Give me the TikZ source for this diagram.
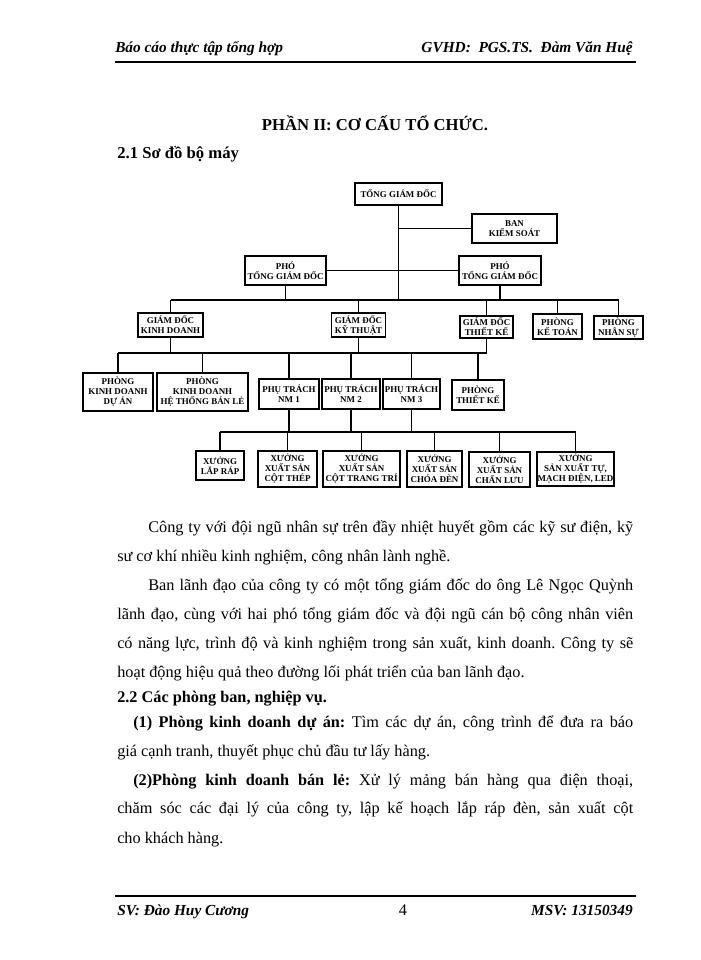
\documentclass[tikz,border=0pt]{standalone}
\usepackage{fontspec}
\setmainfont{Liberation Serif}
\frenchspacing
\newcommand\boxfont{\fontsize{6.7}{7.5}\selectfont\bfseries}
\newcommand\bodyfont{\fontsize{12.2}{14}\selectfont}
\newcommand\hdrfont{\fontsize{11.5}{14}\selectfont\bfseries\itshape}
\begin{document}
\begin{tikzpicture}[x=0.75pt,y=-0.75pt,
  box/.style={draw, line width=1.3pt, inner sep=0pt, align=center, font=\boxfont},
  sz/.style 2 args={minimum width=#1*0.75pt, minimum height=#2*0.75pt},
  ln/.style={line width=1.1pt},
  txt/.style={inner sep=0pt, font=\bodyfont, anchor=base west},
  every node/.append style={text=black}]
\fill[white] (0,0) rectangle (700,960);
\useasboundingbox (0,0) rectangle (700,960);

% header / footer
\node[inner sep=0pt, anchor=base west, font=\hdrfont] (h1) at (115,52) {Báo cáo thực tập tổng hợp};
\node[inner sep=0pt, anchor=base east, font=\hdrfont] (h2) at (633,52) {GVHD:\ \ PGS.TS.\ \ Đàm Văn Huệ};
\draw[line width=1.5pt] (115,62) -- (636,62);
\draw[line width=1pt] (115,896) -- (636,896);
\node[inner sep=0pt, anchor=base west, font=\hdrfont] (f1) at (117,915) {SV: Đào Huy Cương};
\node[inner sep=0pt, anchor=base, font=\bodyfont] (f2) at (403,915) {4};
\node[inner sep=0pt, anchor=base east, font=\hdrfont] (f3) at (633,915) {MSV: 13150349};

% titles
\node[inner sep=0pt, anchor=base, font=\fontsize{12.5}{15}\selectfont\bfseries] (t1) at (375,130) {PHẦN II: CƠ CẤU TỔ CHỨC.};
\node[txt, font=\fontsize{12.5}{15}\selectfont\bfseries] (t2) at (117,158) {2.1 Sơ đồ bộ máy};

% org chart
\node[box, sz={87}{22}] (tgd) at (398.5,194) {TỔNG GIÁM ĐỐC};
\node[box, sz={85}{29}] (bks) at (514.5,228.5) {BAN\\KIỂM SOÁT};
\node[box, sz={81}{29}] (pl) at (285.5,270.5) {PHÓ\\TỔNG GIÁM ĐỐC};
\node[box, sz={82}{29}] (pr) at (500,270.5) {PHÓ\\TỔNG GIÁM ĐỐC};

\node[box, sz={65}{24}] (gdkd) at (170.5,325) {GIÁM ĐỐC\\KINH DOANH};
\node[box, sz={54}{24}] (gdkt) at (358.5,325) {GIÁM ĐỐC\\KỸ THUẬT};
\node[box, sz={53}{22}] (gdtk) at (486.5,327) {GIÁM ĐỐC\\THIẾT KẾ};
\node[box, sz={49}{25}] (kt) at (557.5,326.5) {PHÒNG\\KẾ TOÁN};
\node[box, sz={49}{23}] (ns) at (618.5,327.5) {PHÒNG\\NHÂN SỰ};

\node[box, sz={70}{38}] (kdda) at (118,392) {PHÒNG\\KINH DOANH\\DỰ ÁN};
\node[box, sz={91}{38}] (kdbl) at (202.5,392) {PHÒNG\\KINH DOANH\\HỆ THỐNG BÁN LẺ};
\node[box, sz={60}{30}] (nm1) at (289,394) {PHỤ TRÁCH\\NM 1};
\node[box, sz={58}{30}] (nm2) at (351,394) {PHỤ TRÁCH\\NM 2};
\node[box, sz={57}{30}] (nm3) at (411.5,394) {PHỤ TRÁCH\\NM 3};
\node[box, sz={52}{30}] (ptk) at (478,395) {PHÒNG\\THIẾT KẾ};

\node[box, sz={48}{29}] (x1) at (220,465.5) {XƯỞNG\\LẮP RÁP};
\node[box, sz={59}{36}] (x2) at (287.5,469) {XƯỞNG\\XUẤT SẢN\\CỘT THÉP};
\node[box, sz={77}{36}] (x3) at (361.5,469) {XƯỞNG\\XUẤT SẢN\\CỘT TRANG TRÍ};
\node[box, sz={55}{36}] (x4) at (434.5,469) {XƯỞNG\\XUẤT SẢN\\CHÓA ĐÈN};
\node[box, sz={61}{35}] (x5) at (499.5,469.5) {XƯỞNG\\XUẤT SẢN\\CHẤN LƯU};
\node[box, sz={77}{34}] (x6) at (575.5,469) {XƯỞNG\\SẢN XUẤT TỰ,\\MẠCH ĐIỆN, LED};

\coordinate (b2) at (0,300);
\coordinate (b3) at (0,353);
\coordinate (b4) at (0,432);

\draw[ln] (tgd.south) -- (tgd.south |- b2);
\draw[ln] (tgd.south |- bks.west) -- (bks.west);
\draw[ln] (pl.east) -- (pr.west);
\draw[ln] (pl.south) -- (pl.south |- b2);
\draw[ln] (pr.south) -- (pr.south |- b2);
\draw[ln] (gdkd.north |- b2) -- (ns.north |- b2);
\foreach \n in {gdkd,gdkt,gdtk,kt,ns} \draw[ln] (\n.north) -- (\n.north |- b2);

\draw[ln] (kdda.north |- b3) -- (gdtk.south |- b3);
\foreach \n in {gdkd,gdkt,gdtk} \draw[ln] (\n.south) -- (\n.south |- b3);
\foreach \n in {kdda,kdbl,nm1,nm2,nm3,ptk} \draw[ln] (\n.north) -- (\n.north |- b3);

\draw[ln] (x1.north |- b4) -- (x6.north |- b4);
\foreach \n in {nm1,nm2,nm3} \draw[ln] (\n.south) -- (\n.south |- b4);
\foreach \n in {x1,x2,x3,x4,x5,x6} \draw[ln] (\n.north) -- (\n.north |- b4);

% body text
\node[txt] (l1) at (148,532) {\makebox[363.75pt][s]{Công ty với đội ngũ nhân sự trên đầy nhiệt huyết gồm các kỹ sư điện, kỹ}};
\node[txt] (l2) at (117,561) {sư cơ khí nhiều kinh nghiệm, công nhân lành nghề.};
\node[txt] (l3) at (148,590) {\makebox[363.75pt][s]{Ban lãnh đạo của công ty có một tổng giám đốc do ông Lê Ngọc Quỳnh}};
\node[txt] (l4) at (117,619) {\makebox[387pt][s]{lãnh đạo, cùng với hai phó tổng giám đốc và đội ngũ cán bộ công nhân viên}};
\node[txt] (l5) at (117,648) {\makebox[387pt][s]{có năng lực, trình độ và kinh nghiệm trong sản xuất, kinh doanh. Công ty sẽ}};
\node[txt] (l6) at (117,677) {hoạt động hiệu quả theo đường lối phát triển của ban lãnh đạo.};
\node[txt, font=\bodyfont\bfseries] (l7) at (117,702) {2.2 Các phòng ban, nghiệp vụ.};
\node[txt] (l8) at (133,727) {\makebox[375pt][s]{\textbf{(1) Phòng kinh doanh dự án:} Tìm các dự án, công trình để đưa ra báo}};
\node[txt] (l9) at (117,756) {giá cạnh tranh, thuyết phục chủ đầu tư lấy hàng.};
\node[txt] (l10) at (133,785) {\makebox[375pt][s]{\textbf{(2)Phòng kinh doanh bán lẻ:} Xử lý mảng bán hàng qua điện thoại,}};
\node[txt] (l11) at (117,813) {\makebox[387pt][s]{chăm sóc các đại lý của công ty, lập kế hoạch lắp ráp đèn, sản xuất cột}};
\node[txt] (l12) at (117,843) {cho khách hàng.};
\end{tikzpicture}
\end{document}
